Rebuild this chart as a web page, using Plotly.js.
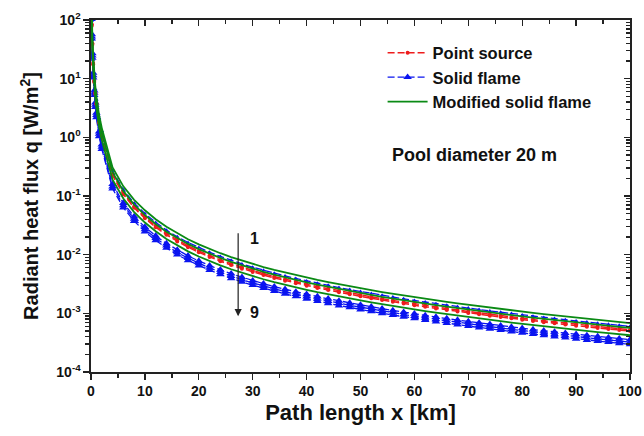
<!DOCTYPE html>
<html>
<head>
<meta charset="utf-8">
<script src="https://cdn.plot.ly/plotly-3.0.1.min.js"></script>
<style>
html,body{margin:0;padding:0;background:#fff;}
#chart{width:644px;height:436px;}
</style>
</head>
<body>
<div id="chart"></div>
<script>
// Path length x [km]
const xKm = [0.1,0.15,0.25,0.4,0.6,0.8,1,1.5,2,4,6,8,10,12,14,16,18,20,22,24,26,28,30,32,34,36,38,40,42,44,46,48,50,52,54,56,58,60,62,64,66,68,70,72,74,76,78,80,82,84,86,88,90,92,94,96,98,100];

// Modified solid flame (green)
const modSolid1 = [240,110,52,24,12,7.5,5.0,2.4,1.45,0.306,0.146,0.086,0.057,0.0403,0.0298,0.0230,0.01836,0.0150,0.0125,0.01059,0.0091,0.00791,0.00694,0.00615,0.00549,0.00494,0.00447,0.00406,0.00371,0.00341,0.00313,0.00289,0.00267,0.00248,0.002305,0.00215,0.00201,0.001883,0.001766,0.00166,0.001563,0.001475,0.001394,0.001318,0.001249,0.001184,0.001124,0.001069,0.001017,0.000969,0.000925,0.000883,0.000844,0.000807,0.000773,0.000741,0.00071,0.000682];
const modSolid2 = [199,91,43,19.9,9.96,6.2,4.15,1.99,1.20,0.254,0.121,0.0714,0.0473,0.0334,0.0247,0.0191,0.01524,0.01245,0.01038,0.00879,0.00755,0.00657,0.00576,0.0051,0.00456,0.0041,0.00371,0.00337,0.00308,0.00283,0.0026,0.0024,0.00222,0.00206,0.00191,0.00178,0.00167,0.001563,0.001466,0.001378,0.001297,0.001224,0.001157,0.001094,0.001037,0.000983,0.000933,0.000887,0.000844,0.000804,0.000768,0.000733,0.0007,0.00067,0.000642,0.000615,0.000589,0.000566];
const modSolid3 = [149,68,32,14.9,7.44,4.65,3.1,1.49,0.90,0.19,0.0905,0.0533,0.0353,0.025,0.0185,0.01426,0.01138,0.0093,0.00775,0.00657,0.00564,0.0049,0.0043,0.00381,0.0034,0.00306,0.00277,0.00252,0.0023,0.00211,0.00194,0.00179,0.00166,0.00154,0.00143,0.00133,0.00125,0.001167,0.001095,0.001029,0.000969,0.000915,0.000864,0.000817,0.000774,0.000734,0.000697,0.000663,0.000631,0.000601,0.000574,0.000547,0.000523,0.0005,0.000479,0.000459,0.00044,0.000423];

// Point source (red)
const point1 = [185,85,40,18.5,9.24,5.78,3.85,1.85,1.12,0.236,0.112,0.0662,0.0439,0.031,0.0229,0.0177,0.01414,0.01155,0.00963,0.00815,0.00701,0.00609,0.00534,0.00474,0.00423,0.0038,0.00344,0.00313,0.00286,0.00263,0.00241,0.00223,0.00206,0.00191,0.00177,0.00166,0.00155,0.00145,0.00136,0.001278,0.001204,0.001136,0.001073,0.001015,0.000962,0.000912,0.000865,0.000823,0.000783,0.000746,0.000712,0.00068,0.00065,0.000621,0.000595,0.000571,0.000547,0.000525];
const point2 = [175,80,38,17.5,8.76,5.48,3.65,1.75,1.06,0.223,0.107,0.0628,0.0416,0.0294,0.0218,0.0168,0.0134,0.01095,0.00913,0.00773,0.00664,0.00577,0.00507,0.00449,0.00401,0.00361,0.00326,0.00296,0.00271,0.00249,0.00228,0.00211,0.00195,0.00181,0.00168,0.00157,0.00147,0.001375,0.001289,0.001212,0.001141,0.001077,0.001018,0.000962,0.000912,0.000864,0.000821,0.00078,0.000742,0.000707,0.000675,0.000645,0.000616,0.000589,0.000564,0.000541,0.000518,0.000498];

// Solid flame (blue)
const solid1 = [211,97,45.8,21.1,10.6,6.6,4.4,2.11,1.28,0.269,0.128,0.0757,0.0502,0.0355,0.0262,0.0202,0.01616,0.0132,0.011,0.00932,0.00801,0.00696,0.00611,0.00541,0.00483,0.00435,0.00393,0.00357,0.00326,0.003,0.00275,0.00254,0.00235,0.00218,0.00203,0.00189,0.00177,0.001657,0.001554,0.001461,0.001375,0.001298,0.001227,0.00116,0.001099,0.001042,0.000989,0.000941,0.000895,0.000853,0.000814,0.000777,0.000743,0.00071,0.00068,0.000652,0.000625,0.0006];
const solid2 = [125,57,27,12.5,6.24,3.9,2.6,1.25,0.754,0.159,0.0759,0.0447,0.0296,0.021,0.0155,0.012,0.00955,0.0078,0.0065,0.00551,0.00473,0.00411,0.00361,0.0032,0.00285,0.00257,0.00232,0.00211,0.00193,0.00177,0.00163,0.0015,0.00139,0.00129,0.0012,0.00112,0.001045,0.000979,0.000918,0.000863,0.000813,0.000767,0.000725,0.000685,0.000649,0.000616,0.000584,0.000556,0.000529,0.000504,0.000481,0.000459,0.000439,0.00042,0.000402,0.000385,0.000369,0.000355];
const solid3 = [114,52,24.7,11.4,5.7,3.56,2.38,1.14,0.689,0.145,0.0694,0.0409,0.0271,0.0191,0.0142,0.0109,0.00872,0.00713,0.00594,0.00503,0.00432,0.00376,0.0033,0.00292,0.00261,0.00235,0.00212,0.00193,0.00176,0.00162,0.00149,0.00137,0.00127,0.00118,0.001095,0.001021,0.000955,0.000894,0.000839,0.000789,0.000742,0.000701,0.000662,0.000626,0.000593,0.000562,0.000534,0.000508,0.000483,0.00046,0.000439,0.000419,0.000401,0.000383,0.000367,0.000352,0.000337,0.000324];
const solid4 = [104,48,22.6,10.4,5.22,3.26,2.18,1.04,0.631,0.133,0.0635,0.0374,0.0248,0.0175,0.013,0.01,0.00799,0.00653,0.00544,0.00461,0.00396,0.00344,0.00302,0.00268,0.00239,0.00215,0.00194,0.00177,0.00161,0.00148,0.00136,0.00126,0.00116,0.00108,0.001003,0.000935,0.000874,0.000819,0.000768,0.000722,0.00068,0.000642,0.000606,0.000573,0.000543,0.000515,0.000489,0.000465,0.000442,0.000422,0.000402,0.000384,0.000367,0.000351,0.000336,0.000322,0.000309,0.000297];

// Tick labels
const yTickVals = [1e-4,1e-3,1e-2,1e-1,1e0,1e1,1e2];
const yTickText = ['10<sup>-4</sup>','10<sup>-3</sup>','10<sup>-2</sup>','10<sup>-1</sup>','10<sup>0</sup>','10<sup>1</sup>','10<sup>2</sup>'];
const xTickVals = [0,10,20,30,40,50,60,70,80,90,100];

const BLUE = '#0a14f0', RED = '#ee1c1c', GREEN = '#0a8a14';
const traces = [];

[solid1, solid2, solid3, solid4].forEach((ys, i) => {
  traces.push({
    x: xKm, y: ys, type: 'scatter', mode: 'lines+markers',
    name: 'Solid flame', legendrank: 2, showlegend: i === 1,
    line: {color: BLUE, width: 1.3, dash: '7px,3px'},
    marker: {symbol: 'triangle-up', size: i === 0 ? 4 : 7.5, color: BLUE},
    hoverinfo: 'skip'
  });
});
[point1, point2].forEach((ys, i) => {
  traces.push({
    x: xKm, y: ys, type: 'scatter', mode: 'lines+markers',
    name: 'Point source', legendrank: 1, showlegend: i === 0,
    line: {color: RED, width: 1.5, dash: '7px,3px'},
    marker: {symbol: 'circle', size: 4, color: RED},
    hoverinfo: 'skip'
  });
});
[modSolid1, modSolid2, modSolid3].forEach((ys, i) => {
  traces.push({
    x: xKm, y: ys, type: 'scatter', mode: 'lines',
    name: 'Modified solid flame', legendrank: 3, showlegend: i === 0,
    line: {color: GREEN, width: 1.8},
    hoverinfo: 'skip'
  });
});
// mirror axes holder
traces.push({x: [null], y: [null], xaxis: 'x2', yaxis: 'y2', showlegend: false, hoverinfo: 'skip', type: 'scatter', mode: 'lines'});

const FONT = 'Liberation Sans, Arial, sans-serif';
const axisCommon = {showgrid: false, zeroline: false, showline: true, linecolor: '#222', linewidth: 1.6, tickcolor: '#222', tickwidth: 1.3};

const layout = {
  width: 644, height: 436,
  margin: {l: 91, r: 14, t: 20, b: 64},
  paper_bgcolor: '#fff', plot_bgcolor: '#fff',
  font: {family: FONT, size: 14, color: '#111', weight: 'bold'},
  showlegend: true,
  legend: {x: 0.541, y: 0.956, xanchor: 'left', yanchor: 'top', bgcolor: 'rgba(0,0,0,0)',
           font: {family: FONT, size: 16.5, color: '#111', weight: 'bold'}, itemwidth: 40, tracegroupgap: 0},
  xaxis: Object.assign({}, axisCommon, {
    range: [0, 100], tickmode: 'array', tickvals: xTickVals, ticks: 'outside', ticklen: 6,
    minor: {dtick: 5, ticks: 'outside', ticklen: 4, tickcolor: '#222'},
    tickfont: {family: FONT, size: 14, color: '#111', weight: 'bold'},
    title: {text: 'Path length x [km]', font: {family: FONT, size: 22, color: '#111', weight: 'bold'}, standoff: 6}
  }),
  yaxis: Object.assign({}, axisCommon, {
    type: 'log', range: [-4, 2], tickmode: 'array', tickvals: yTickVals, ticktext: yTickText,
    ticks: 'outside', ticklen: 6,
    minor: {dtick: 'D1', ticks: 'outside', ticklen: 4, tickcolor: '#222'},
    tickfont: {family: FONT, size: 14, color: '#111', weight: 'bold'},
    title: {text: 'Radiant heat flux q [W/m<sup>2</sup>]', font: {family: FONT, size: 20, color: '#111', weight: 'bold'}, standoff: 12}
  }),
  xaxis2: Object.assign({}, axisCommon, {
    overlaying: 'x', side: 'top', range: [0, 100], tickmode: 'array', tickvals: xTickVals,
    ticks: 'inside', ticklen: 6, showticklabels: false,
    minor: {dtick: 5, ticks: 'inside', ticklen: 4, tickcolor: '#222'}
  }),
  yaxis2: Object.assign({}, axisCommon, {
    overlaying: 'y', side: 'right', type: 'log', range: [-4, 2], tickmode: 'array', tickvals: yTickVals,
    ticks: 'inside', ticklen: 6, showticklabels: false,
    minor: {dtick: 'D1', ticks: 'inside', ticklen: 4, tickcolor: '#222'}
  }),
  annotations: [
    {xref: 'paper', yref: 'paper', x: 0.555, y: 0.617, xanchor: 'left', yanchor: 'middle', showarrow: false,
     text: 'Pool diameter 20 m', font: {family: FONT, size: 18, color: '#111', weight: 'bold'}},
    {xref: 'x', yref: 'y', x: 27.3, y: -3.05, ax: 27.3, ay: -1.61, axref: 'x', ayref: 'y',
     showarrow: true, arrowhead: 2, arrowsize: 1.2, arrowwidth: 1.2, arrowcolor: '#222', text: ''},
    {xref: 'x', yref: 'y', x: 30.3, y: -1.73, showarrow: false, text: '1',
     font: {family: FONT, size: 16, color: '#111', weight: 'bold'}},
    {xref: 'x', yref: 'y', x: 30.3, y: -2.98, showarrow: false, text: '9',
     font: {family: FONT, size: 16, color: '#111', weight: 'bold'}}
  ]
};

Plotly.newPlot('chart', traces, layout, {staticPlot: true, displayModeBar: false});
</script>
</body>
</html>
